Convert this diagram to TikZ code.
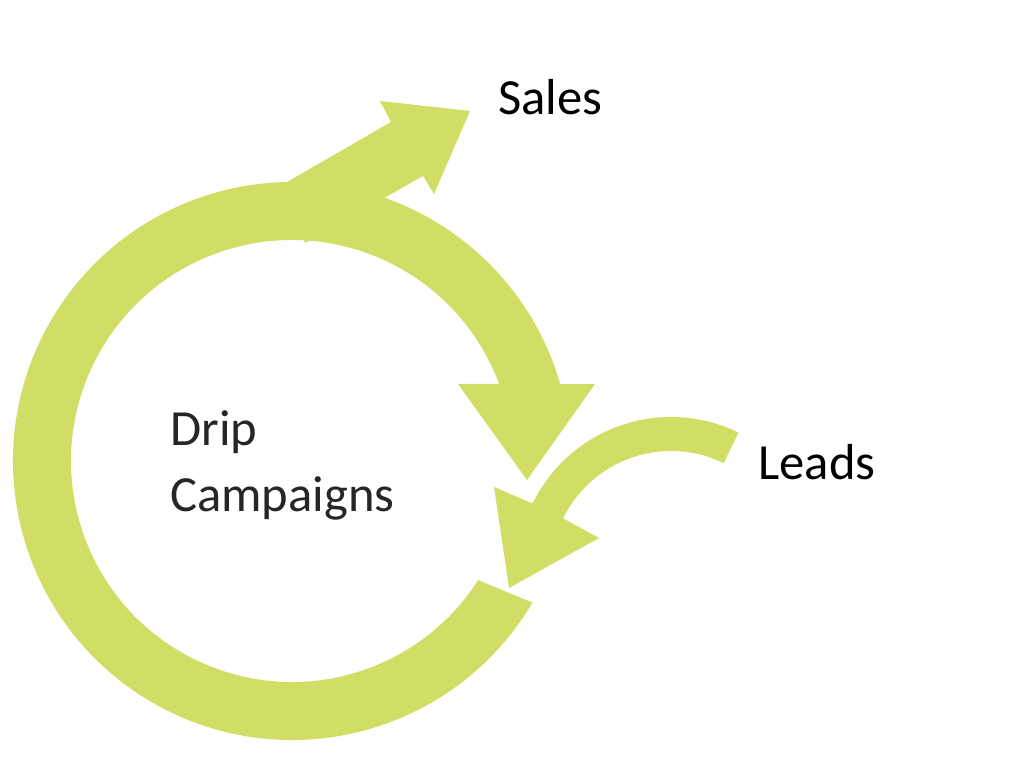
\documentclass[tikz,border=0pt]{standalone}
\usepackage{fontspec}
\setmainfont{Carlito}
\usetikzlibrary{positioning}
\definecolor{dripgreen}{HTML}{D1DE65}
\definecolor{dripgray}{HTML}{262626}

\begin{document}
\begin{tikzpicture}[
    x=0.025cm, y=0.025cm,
    band/.style={fill=dripgreen},
    word/.style={font=\fontsize{36}{47}\selectfont, anchor=base west, inner sep=0pt},
  ]
  \useasboundingbox (0,0) rectangle (1024,768);
  \coordinate (hub) at (292,307);
  \coordinate (leadhub) at (671,197);

  % big ring, arrow pointing down
  \fill[band] ([shift={(-30.5:279)}]hub) arc[start angle=-30.5, end angle=-344, radius=279]
    -- (595,384) -- (527,288) -- (458,384)
    -- ([shift={(20.4:221)}]hub) arc[start angle=20.4, end angle=-32.6+360, radius=221] -- cycle;

  % sales arrow
  \fill[band] (287,586) -- (391,646) -- (380,667) -- (470,657) -- (434,574) -- (423,592) -- (305,525) -- cycle;

  % leads arrow
  \fill[band] ([shift={(64:154)}]leadhub) arc[start angle=64, end angle=154, radius=154]
    -- (494,281) -- (509,180) -- (599,230)
    -- ([shift={(154:120)}]leadhub) arc[start angle=154, end angle=64, radius=120] -- cycle;

  % labels
  \node[word] (sales) at (498,653) {Sales};
  \node[word] (leads) at (758,288) {Leads};
  \node[word, align=left, text=dripgray] (drip) at (170,256) {Drip\\Campaigns};
\end{tikzpicture}
\end{document}
